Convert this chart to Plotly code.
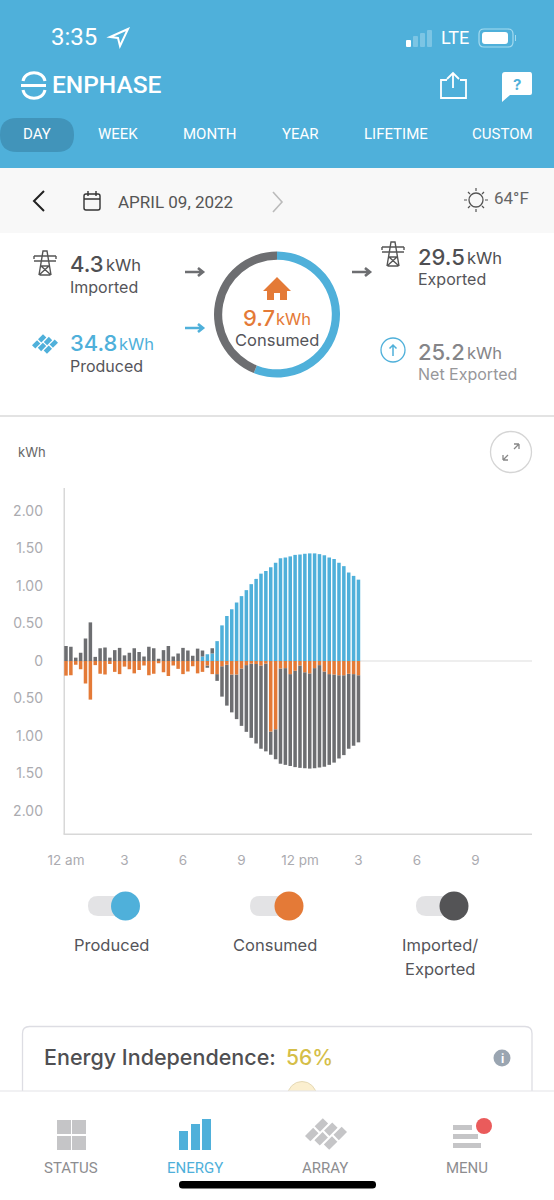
import math
import re
import plotly.graph_objects as go

W = 554
H = 1200

# kWh per 15 minute slot
slots = list(range(61))
produced = [0] * 28 + [.06, .09, .10, .265, .475, .60, .69, .78, .865, .945, 1.025, 1.095, 1.165, 1.20, 1.25,
                       1.31, 1.37, 1.38, 1.395, 1.415, 1.42, 1.43, 1.435, 1.435, 1.425, 1.41, 1.38, 1.36, 1.31,
                       1.265, 1.18, 1.135, 1.085]
consumed = [.195, .19, .05, .11, .30, .515, .055, .17, .18, .04, .145, .175, .075, .11, .165, .12, .06, .19, .17,
            .03, .15, .20, .06, .105, .175, .14, .07, .165, .145, .06, .175, .175, .07, .05, .18, .18, .10, .055,
            .035, .04, .06, .035, .94, .91, .10, .095, .175, .13, .06, .15, .165, .095, .055, .14, .175, .18, .19,
            .19, .17, .175, .19]
imported = [.20, .19, .045, .11, .30, .515, .055, .17, .18, .045, .145, .175, .075, .11, .17, .12, .06, .19, .17,
            .03, .145, .20, .06, .10, .175, .14, .07, .165, .08, 0, .07] + [0] * 30
exported = [0] * 29 + [.03, 0, .09, .405, .545, .505, .595, .765, .89, .99, 1.06, 1.11, 1.17, .31, .40, 1.27,
                       1.29, 1.225, 1.285, 1.365, 1.28, 1.27, 1.335, 1.365, 1.27, 1.21, 1.175, 1.11, 1.065, 1.00,
                       .955, .895]

x_ticks = [0, 12, 24, 36, 48, 60, 72, 84]
x_tick_labels = ["12 am", "3", "6", "9", "12 pm", "3", "6", "9"]
y_ticks = [2, 1.5, 1, .5, 0, -.5, -1, -1.5, -2]
y_tick_labels = ["2.00", "1.50", "1.00", "0.50", "0", "0.50", "1.00", "1.50", "2.00"]

# ring around the house, same split as the energy independence figure
ring_values = [56, 44]

nav_labels = ["DAY", "WEEK", "MONTH", "YEAR", "LIFETIME", "CUSTOM"]
nav_centers = [37, 118, 210, 300, 396, 502]

BLUE = "#4FB0DA"
ORANGE = "#E47A37"
GREY = "#6D6E71"
BODY = "Inter, 'Noto Sans', sans-serif"
NARROW = "Roboto, sans-serif"

shapes = []
notes = []


# everything around the chart is placed in screen pixels
def px(x):
    return x / W


def py(y):
    return 1 - y / H


def to_paper(d):
    # numbers in a path string come in x y pairs
    nums = iter(range(10000))
    def conv(m):
        v = float(m.group(0))
        return "%.5f" % (px(v) if next(nums) % 2 == 0 else py(v))
    return re.sub(r"-?\d+\.?\d*", conv, d)


def path(d, fill=None, line=None, width=1.5, layer="above"):
    shapes.append(dict(type="path", xref="paper", yref="paper", path=to_paper(d), layer=layer,
                       fillcolor=fill if fill else "rgba(0,0,0,0)",
                       line=dict(color=line if line else "rgba(0,0,0,0)", width=width if line else 0)))


def rect(x0, y0, x1, y1, fill, layer="below"):
    shapes.append(dict(type="rect", xref="paper", yref="paper", x0=px(x0), x1=px(x1), y0=py(y1), y1=py(y0),
                       fillcolor=fill, line=dict(width=0), layer=layer))


def circle(cx, cy, r, fill=None, line=None, width=1.5):
    shapes.append(dict(type="circle", xref="paper", yref="paper", x0=px(cx - r), x1=px(cx + r), y0=py(cy + r),
                       y1=py(cy - r), fillcolor=fill if fill else "rgba(0,0,0,0)", layer="above",
                       line=dict(color=line if line else "rgba(0,0,0,0)", width=width if line else 0)))


def rounded(x0, y0, x1, y1, r, fill=None, line=None, width=1.5, layer="above"):
    d = (f"M {x0 + r} {y0} L {x1 - r} {y0} Q {x1} {y0} {x1} {y0 + r} L {x1} {y1 - r} Q {x1} {y1} {x1 - r} {y1} "
         f"L {x0 + r} {y1} Q {x0} {y1} {x0} {y1 - r} L {x0} {y0 + r} Q {x0} {y0} {x0 + r} {y0} Z")
    path(d, fill, line, width, layer)


def text(x, y, s, size, color, anchor="left", font=BODY, weight=400):
    notes.append(dict(xref="paper", yref="paper", x=px(x), y=py(y), text=s, showarrow=False, xanchor=anchor,
                      yanchor="middle", borderpad=0, borderwidth=0,
                      font=dict(family=font, size=size, color=color, weight=weight)))


def tile(cx, cy, w, h, color, angle=-45):
    a = math.radians(angle)
    pts = []
    for dx, dy in [(-w / 2, -h / 2), (w / 2, -h / 2), (w / 2, h / 2), (-w / 2, h / 2)]:
        pts.append((cx + dx * math.cos(a) - dy * math.sin(a), cy + dx * math.sin(a) + dy * math.cos(a)))
    path("M %.2f %.2f L %.2f %.2f L %.2f %.2f L %.2f %.2f Z" % tuple(v for p in pts for v in p), fill=color)


def panel(cx, cy, s, color):
    # tilted brick pattern of the array icon: three rows of two offset bricks
    a = math.radians(-45)
    for u0, v0 in [(-1.0, -1.15), (.3, -1.15), (-.65, 0), (.65, 0), (-.3, 1.15), (1.0, 1.15)]:
        u = u0 * s
        v = v0 * s * .8
        tile(cx + u * math.cos(a) - v * math.sin(a), cy + u * math.sin(a) + v * math.cos(a), s * 1.1, s * .72, color)


def tower(cx, cy, color):
    d = (f"M {cx - 6} {cy + 12} L {cx - 2} {cy - 12} L {cx + 2} {cy - 12} L {cx + 6} {cy + 12} "
         f"M {cx - 11} {cy - 7} L {cx + 11} {cy - 7} M {cx - 11} {cy - 2} L {cx + 11} {cy - 2} "
         f"M {cx - 4} {cy + 3} L {cx + 4} {cy + 3} M {cx - 6} {cy + 12} L {cx + 4} {cy + 3} "
         f"M {cx + 6} {cy + 12} L {cx - 4} {cy + 3} M {cx - 11} {cy - 7} L {cx - 11} {cy - 4} "
         f"M {cx + 11} {cy - 7} L {cx + 11} {cy - 4} M {cx - 5} {cy + 12} L {cx + 5} {cy + 12}")
    path(d, line=color, width=1.4)


def arrow(x0, x1, y, color):
    path(f"M {x0} {y} L {x1} {y} M {x1 - 5} {y - 4} L {x1} {y} L {x1 - 5} {y + 4}", line=color, width=2.6)


# header
rect(0, 0, W, 168, BLUE)
rect(0, 168, W, 233, "#F8F8F8")
rounded(0, 118, 74, 152, 17, fill="#4194BA", layer="below")
text(51, 37, "3:35", 24, "white", font="Roboto, sans-serif")
path("M 128 29 L 110 37 L 118 38 L 120 46 Z", line="white", width=2)
for bx, top, col in [(406, 40, "white"), (413, 36, "#7CC5E4"), (420, 33, "#7CC5E4"), (427, 30, "#7CC5E4")]:
    rounded(bx, top, bx + 5, 47, 1, fill=col)
text(441, 38, "LTE", 18, "white", font=NARROW)
rounded(479, 29, 513, 47, 5, line="#A5DBF0", width=1.2)
rounded(482, 32, 508, 44, 3, fill="white")
path("M 515 35 L 516 35 L 516 41 L 515 41 Z", fill="#A5DBF0")

# enphase logo
path("M 23 81 C 25 70 43 70 45 81", line="white", width=3)
path("M 21 85.5 L 46 85.5", line="white", width=3)
path("M 23 90 C 25 101 43 101 45 90", line="white", width=3)
text(52, 85, "ENPHASE", 24.5, "white", font=NARROW, weight=500)

# share and help
path("M 447 80 L 441 80 L 441 98 L 466 98 L 466 80 L 460 80", line="white", width=1.8)
path("M 453 88 L 453 74 M 447 79 L 453 73 L 459 79", line="white", width=1.8)
path("M 505 72 L 530 72 Q 532 72 532 75 L 532 93 Q 532 95 530 95 L 510 95 L 502 102 L 502 75 Q 502 72 505 72 Z",
     fill="white")
text(517, 84, "<b>?</b>", 15, BLUE, anchor="center")

for lab, cx in zip(nav_labels, nav_centers):
    text(cx, 134, lab, 15, "white", anchor="center", font=NARROW)

# date row
path("M 44 191 L 34 201 L 44 211", line="#222222", width=2)
rounded(84, 194, 100, 210, 2, line="#333333", width=1.4)
path("M 84 199 L 100 199 M 88 191 L 88 196 M 96 191 L 96 196", line="#333333", width=1.4)
text(118, 202, "APRIL 09, 2022", 17, "#555555", font=NARROW)
path("M 273 192 L 282 202 L 273 212", line="#BBBBBB", width=1.6)
circle(476, 200, 7, line="#555555", width=1.3)
path("M 476 188 L 476 191 M 476 209 L 476 212 M 464 200 L 467 200 M 485 200 L 488 200 M 468 192 L 470 194 "
     "M 482 206 L 484 208 M 484 192 L 482 194 M 470 206 L 468 208", line="#555555", width=1.2)
text(494, 198, "64°F", 17, "#666666", font=NARROW)

# summary block
tower(45, 263, "#555555")
text(70, 264, "4.3", 22, "#4F4F52", weight=500)
text(106, 265, "kWh", 16.5, "#4F4F52")
text(70, 287, "Imported", 16, "#55555A")
panel(45, 344, 6.5, BLUE)
text(70, 343, "34.8", 22, BLUE, weight=500)
text(119, 344, "kWh", 16.5, BLUE)
text(70, 366, "Produced", 16, "#55555A")
arrow(185, 203, 272, GREY)
arrow(185, 203, 328, BLUE)
arrow(352, 370, 272, GREY)
path("M 277 277 L 291 291 L 287 291 L 287 300 L 280 300 L 280 293 L 274 293 L 274 300 L 267 300 L 267 291 "
     "L 263 291 Z", fill=ORANGE)
text(243, 318, "9.7", 22, ORANGE, weight=500)
text(276, 319, "kWh", 16.5, ORANGE)
text(277, 340, "Consumed", 16.5, "#55555A", anchor="center")
tower(393, 254, "#555555")
text(418, 257, "29.5", 22, "#4F4F52", weight=500)
text(467, 258, "kWh", 16.5, "#4F4F52")
text(418, 279, "Exported", 16, "#55555A")
circle(393, 350, 12, line=BLUE, width=1.3)
path("M 393 356 L 393 345 M 389.5 348.5 L 393 345 L 396.5 348.5", line=BLUE, width=1.5)
text(418, 352, "25.2", 22, "#858588", weight=500)
text(467, 353, "kWh", 16.5, "#858588")
text(418, 374, "Net Exported", 16, "#97979A")
rect(0, 415, W, 417, "#E3E3E3")

# chart furniture
text(18, 452, "kWh", 13, "#666666")
circle(511, 452, 20.5, line="#D5D5D5", width=1.3)
path("M 503 460 L 508 455 M 503 460 L 503 455 M 503 460 L 508 460 M 519 444 L 514 449 M 519 444 L 514 444 "
     "M 519 444 L 519 449", line="#888888", width=1.3)
rect(64, 660.5, 532, 661.5, "#DDDDDD")
rect(63.5, 488, 65, 834, "#D8D8D8")
rect(63.5, 833.5, 532, 835, "#D8D8D8")

# toggles
for tx, knob, col, label, cx in [(88, 125.5, BLUE, "Produced", 111), (250, 289, ORANGE, "Consumed", 275),
                                 (416, 454, "#545456", "Imported/", 440)]:
    rounded(tx, 896, knob + 4, 916, 10, fill="#E3E3E5")
    circle(knob, 906, 14.5, fill=col)
    text(cx, 945, label, 16.5, "#55555A", anchor="center")
text(440, 969, "Exported", 16.5, "#55555A", anchor="center")

# card that scrolls under the tab bar
rounded(22.5, 1026.5, 532, 1130, 7, line="#DDDDE3", width=1.3)
text(44, 1057, "Energy Independence:", 21.5, "#4F4F52", weight=500)
text(286, 1057, "56%", 21, "#D5BE48", weight=500)
circle(502, 1058, 8.5, fill="#9AA5B1")
text(502, 1058, "<b>i</b>", 12, "white", anchor="center")
circle(302, 1096, 14.5, fill="#FBEFCF", line="#E5D9B5", width=1)
circle(302, 1098, 6, fill="#D5BE48")

# tab bar
rounded(0, 1091, W, 1200, 0, fill="#FFFFFF")
rect(0, 1090.5, W, 1091.5, "#E3E3E8", layer="above")
for sx, sy in [(57, 1120), (72, 1120), (57, 1136), (72, 1136)]:
    rect(sx, sy, sx + 14, sy + 14, "#C5C5C7", layer="above")
for sx, sy in [(179, 1131), (191, 1124), (202, 1119)]:
    rect(sx, sy, sx + 9, 1150, BLUE, layer="above")
panel(326, 1134, 10.5, "#C5C5C7")
for lx, rx, ly in [(453, 472, 1126), (453, 478, 1135), (453, 481, 1144)]:
    rect(lx, ly - 1, rx, ly + 4, "#C5C5C7", layer="above")
circle(484, 1126, 8, fill="#EA5B5B")
text(71, 1168, "STATUS", 15, "#8D8D90", anchor="center", font=NARROW)
text(195, 1168, "ENERGY", 15, BLUE, anchor="center", font=NARROW)
text(325, 1168, "ARRAY", 15, "#8D8D90", anchor="center", font=NARROW)
text(467, 1168, "MENU", 15, "#8D8D90", anchor="center", font=NARROW)
rounded(179, 1181, 376, 1188.5, 3.5, fill="#000000")

fig = go.Figure()
fig.add_bar(x=slots, y=produced, marker_color=BLUE, name="Produced")
fig.add_bar(x=slots, y=imported, base=produced, marker_color=GREY, name="Imported")
fig.add_bar(x=slots, y=[-v for v in exported], base=[-v for v in consumed], marker_color=GREY, name="Exported")
fig.add_bar(x=slots, y=[-v for v in consumed], marker_color=ORANGE, name="Consumed")
fig.add_trace(go.Pie(values=ring_values, hole=.87, sort=False, direction="clockwise", rotation=0,
                     marker=dict(colors=[BLUE, GREY], line=dict(width=0)), textinfo="none", showlegend=False,
                     domain=dict(x=[px(214), px(340)], y=[py(377.5), py(251.5)])))

fig.update_traces(width=.72, marker_line_width=0, selector=dict(type="bar"))
fig.update_layout(
    width=W, height=H, margin=dict(l=0, r=0, t=0, b=0, pad=0), showlegend=False, barmode="overlay",
    paper_bgcolor="white", plot_bgcolor="rgba(0,0,0,0)", shapes=shapes, annotations=notes,
    xaxis=dict(domain=[px(64), px(532)], range=[-.41, 95.6], tickvals=x_ticks, ticktext=x_tick_labels,
               automargin=False, showgrid=False, zeroline=False, showline=False, ticks="", ticklabelstandoff=16,
               tickfont=dict(family=BODY, size=13.5, color="#ABABB0")),
    yaxis=dict(domain=[py(834), py(488)], range=[-2.307, 2.307], tickvals=y_ticks, ticktext=y_tick_labels,
               automargin=False, showgrid=False, zeroline=False, showline=False, ticks="", ticklabelstandoff=20,
               tickfont=dict(family=BODY, size=14, color="#ABABB0")),
)

fig.write_html("out.html", config=dict(displayModeBar=False), post_script="document.body.style.margin='0';")
